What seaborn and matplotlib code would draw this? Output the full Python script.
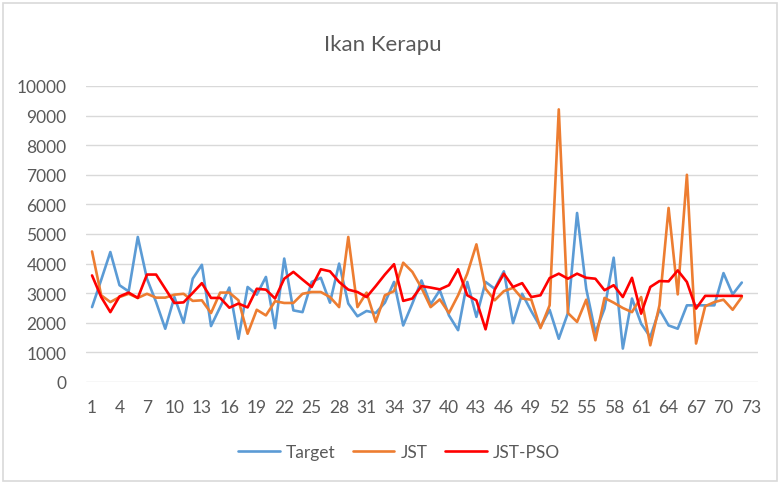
import matplotlib
matplotlib.use("Agg")
import matplotlib.pyplot as plt
from matplotlib.patches import Rectangle
import numpy as np
import pandas as pd
import seaborn as sns

# Observation index (1..72) and the three series
periode = list(range(1, 73))

target = [2530, 3450, 4390, 3270, 3060, 4900, 3490, 2700, 1800, 2870,
          2000, 3490, 3960, 1890, 2530, 3190, 1460, 3210, 2950, 3550,
          1820, 4170, 2420, 2360, 3380, 3520, 2680, 4000, 2650, 2220,
          2400, 2330, 2680, 3380, 1910, 2650, 3430, 2620, 3100, 2250,
          1750, 3380, 2200, 3380, 3150, 3740, 1990, 2980, 2390, 1860,
          2440, 1460, 2330, 5710, 3150, 1670, 2480, 4200, 1130, 2820,
          1970, 1520, 2450, 1910, 1800, 2590, 2590, 2590, 2590, 3680,
          2960, 3360]

jst = [4410, 2930, 2700, 2870, 2980, 2840, 2980, 2850, 2850, 2950,
       2980, 2740, 2760, 2330, 3020, 3020, 2760, 1630, 2440, 2250,
       2730, 2670, 2670, 2980, 3040, 3040, 2870, 2530, 4900, 2530,
       3020, 2030, 2930, 3070, 4030, 3720, 3180, 2530, 2790, 2330,
       2930, 3660, 4650, 3150, 2760, 3070, 3180, 2820, 2780, 1820,
       2590, 9210, 2330, 2030, 2780, 1410, 2840, 2680, 2500, 2360,
       2870, 1240, 2590, 5880, 2960, 7000, 1300, 2560, 2700, 2780,
       2440, 2870]

jst_pso = [3600, 2870, 2360, 2890, 3020, 2840, 3630, 3630, 3150, 2670,
           2690, 3010, 3340, 2840, 2840, 2510, 2650, 2520, 3150, 3120,
           2820, 3490, 3720, 3460, 3210, 3810, 3740, 3380, 3120, 3040,
           2870, 3240, 3630, 3980, 2740, 2820, 3240, 3190, 3130, 3270,
           3810, 2930, 2760, 1780, 3120, 3660, 3210, 3340, 2870, 2930,
           3510, 3660, 3490, 3660, 3520, 3490, 3100, 3270, 2870, 3520,
           2310, 3210, 3410, 3400, 3770, 3380, 2480, 2910, 2910, 2910,
           2910, 2910]

series_names = ["Target", "JST", "JST-PSO"]
x_ticks = list(range(1, 74, 3))
y_ticks = list(range(0, 10001, 1000))

df = pd.DataFrame({
    "Periode": periode * 3,
    "Nilai": target + jst + jst_pso,
    "Seri": [series_names[0]] * len(target)
            + [series_names[1]] * len(jst)
            + [series_names[2]] * len(jst_pso),
})

sns.set_theme(style="white")
plt.rcParams["font.family"] = ["Lato", "DejaVu Sans"]

text_color = "#595959"
grid_color = "#D9D9D9"
palette = {"Target": "#5B9BD5", "JST": "#ED7D31", "JST-PSO": "#FF0000"}

fig = plt.figure(figsize=(7.8, 4.85), dpi=100)
ax = fig.add_axes([86 / 780, 1 - 383 / 485, 672 / 780, 296 / 485])

sns.lineplot(data=df, x="Periode", y="Nilai", hue="Seri", hue_order=series_names,
             palette=palette, linewidth=1.9, ax=ax, legend=False)

ax.set_xlim(0.34, 73.77)
ax.set_ylim(0, 10000)
ax.set_xticks(x_ticks)
ax.set_xticklabels([str(t) for t in x_ticks])
ax.set_yticks(y_ticks)
ax.set_yticklabels([str(t) for t in y_ticks])
ax.tick_params(axis="both", length=0, labelsize=12.5, colors=text_color)
ax.tick_params(axis="y", pad=14)
ax.tick_params(axis="x", pad=12)
ax.set_xlabel("")
ax.set_ylabel("")

ax.grid(axis="y", color=grid_color, linewidth=1.0)
ax.grid(axis="x", visible=False)
ax.set_axisbelow(True)
for side in ["top", "right", "left", "bottom"]:
    ax.spines[side].set_visible(False)

# Chart title centred over the whole chart area
fig.text(383 / 780, 1 - 45 / 485, "Ikan Kerapu", fontsize=16, color=text_color,
         ha="center", va="center")

handles = [plt.Line2D([], [], color=palette[n], linewidth=1.9) for n in series_names]
fig.legend(handles, series_names, loc="center", bbox_to_anchor=(399 / 780, 1 - 453 / 485),
           ncol=3, frameon=False, fontsize=12.5, labelcolor=text_color,
           handlelength=2.4, handletextpad=0.35, columnspacing=1.0)

fig.patches.append(Rectangle((3 / 780, 3 / 485), 774 / 780, 478 / 485,
                             transform=fig.transFigure, fill=False,
                             edgecolor=grid_color, linewidth=1.2))

fig.savefig("out.png", dpi=100)
